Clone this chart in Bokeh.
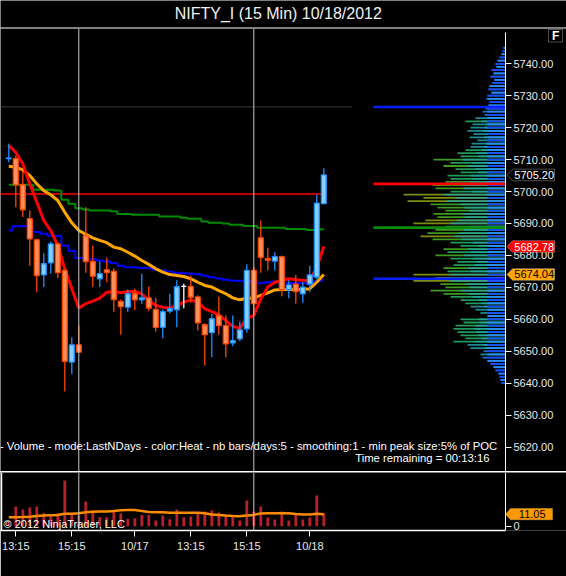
import numpy as np
from bokeh.plotting import figure
from bokeh.layouts import column
from bokeh.models import (Range1d, FixedTicker, NumeralTickFormatter, Span, Label,
                          PolyAnnotation, ColumnDataSource)
from bokeh.embed import file_html
from bokeh.resources import INLINE
from bokeh.core.properties import value

FONT = "Liberation Sans"

# ---------------- data ----------------
title_text = "NIFTY_I (15 Min)  10/18/2012"

opens = [5710.3, 5710.3, 5702.1, 5691.5, 5684.9, 5673.9, 5677.7, 5683.6, 5675.3, 5646.6,
         5652.0, 5686.2, 5678.1, 5672.7, 5675.5, 5675.0, 5665.6, 5663.8, 5668.0, 5666.1,
         5666.7, 5663.1, 5657.5, 5662.6, 5663.0, 5670.3, 5670.3, 5667.0, 5658.3, 5655.8,
         5661.2, 5658.0, 5652.6, 5653.9, 5657.0, 5675.3, 5685.5, 5679.0, 5678.2, 5679.6,
         5669.3, 5671.0, 5668.0, 5671.0, 5673.2, 5696.2]
highs = [5715.0, 5711.3, 5706.6, 5694.1, 5685.2, 5680.7, 5684.4, 5684.1, 5675.6, 5654.4,
         5658.1, 5695.1, 5683.1, 5678.1, 5679.3, 5676.0, 5666.2, 5669.3, 5669.6, 5674.3,
         5670.3, 5666.7, 5663.1, 5668.0, 5672.2, 5671.1, 5673.7, 5667.5, 5658.8, 5661.7,
         5667.1, 5661.2, 5661.2, 5659.3, 5677.2, 5676.5, 5690.9, 5682.4, 5681.0, 5680.0,
         5672.2, 5673.9, 5671.6, 5676.8, 5699.0, 5707.3]
lows = [5709.2, 5695.1, 5692.0, 5676.8, 5668.5, 5670.1, 5674.3, 5672.9, 5637.4, 5642.9,
        5649.7, 5674.6, 5670.1, 5670.1, 5671.6, 5662.4, 5655.2, 5662.4, 5662.8, 5664.9,
        5662.6, 5656.2, 5654.1, 5661.9, 5657.5, 5663.5, 5665.2, 5656.5, 5645.5, 5648.1,
        5655.2, 5648.1, 5651.6, 5653.2, 5655.8, 5661.2, 5674.6, 5675.3, 5675.3, 5667.2,
        5666.6, 5664.9, 5665.2, 5668.6, 5672.5, 5696.0]
closes = [5710.5, 5702.1, 5694.3, 5685.2, 5673.7, 5677.4, 5683.6, 5674.6, 5646.8, 5652.0,
          5649.7, 5678.1, 5673.5, 5674.3, 5674.6, 5666.2, 5664.0, 5668.0, 5666.1, 5666.7,
          5663.5, 5657.5, 5662.4, 5663.3, 5670.2, 5670.3, 5666.9, 5658.9, 5655.2, 5660.2,
          5658.0, 5652.3, 5653.3, 5656.7, 5675.3, 5664.9, 5679.4, 5678.5, 5679.6, 5669.3,
          5670.8, 5668.7, 5670.1, 5673.9, 5696.4, 5705.2]

ma_fast = [5714.4, 5712.3, 5708.7, 5702.4, 5696.7, 5690.9, 5687.8, 5683.1, 5675.8, 5669.6,
           5663.5, 5664.9, 5665.7, 5666.6, 5668.5, 5668.7, 5668.3, 5668.7, 5668.7, 5668.0,
           5665.9, 5664.3, 5663.8, 5663.5, 5664.3, 5665.4, 5666.1, 5665.4, 5663.3, 5662.4,
           5661.4, 5659.6, 5657.8, 5657.2, 5660.2, 5661.2, 5666.4, 5670.1, 5671.6, 5672.2,
           5672.7, 5672.4, 5672.2, 5671.9, 5676.3, 5682.78]
ma_slow = [5707.9, 5707.6, 5706.8, 5705.0, 5702.4, 5700.3, 5699.0, 5697.2, 5693.5, 5690.2,
           5687.8, 5686.6, 5685.5, 5684.7, 5684.0, 5682.6, 5682.1, 5681.0, 5679.8, 5678.4,
           5677.2, 5675.8, 5674.8, 5674.0, 5673.7, 5673.4, 5672.7, 5671.6, 5670.6, 5670.1,
           5669.0, 5668.0, 5666.7, 5666.1, 5666.6, 5666.7, 5667.5, 5668.3, 5669.2, 5669.3,
           5669.3, 5669.3, 5669.3, 5669.6, 5671.6, 5674.04]
blue_step = [5687.8, 5689.1, 5689.1, 5689.1, 5687.3, 5686.8, 5686.2, 5686.2, 5683.1, 5681.5,
             5679.2, 5679.0, 5678.8, 5678.4, 5678.1, 5677.6, 5676.8, 5676.3, 5676.3, 5676.1,
             5676.0, 5675.5, 5675.3, 5675.0, 5674.6, 5674.4, 5674.3, 5674.1, 5673.6, 5673.2,
             5672.8, 5672.4, 5672.1, 5672.1, 5672.1, 5671.8, 5671.3, 5671.6, 5671.8, 5671.6,
             5671.4, 5671.4, 5671.3, 5671.1, 5671.9, 5672.2]
green_step = [5702.1, 5702.1, 5702.1, 5702.1, 5700.6, 5700.6, 5700.6, 5700.3, 5697.4, 5696.2,
              5694.8, 5694.4, 5694.1, 5694.1, 5694.1, 5693.8, 5693.0, 5693.0, 5692.7, 5692.7,
              5692.7, 5692.7, 5692.2, 5692.2, 5692.2, 5691.8, 5691.5, 5691.5, 5690.6, 5690.2,
              5690.2, 5690.0, 5689.6, 5689.6, 5689.2, 5689.2, 5688.7, 5688.7, 5688.7, 5688.7,
              5688.3, 5688.3, 5688.3, 5688.0, 5688.0, 5688.2]
ref_level = 5699.2

volumes = [4.6, 18.1, 15.4, 17.2, 18.1, 12.0, 10.8, 12.0, 42.0, 12.0,
           9.8, 22.7, 14.4, 8.3, 8.3, 13.8, 12.0, 6.7, 7.4, 10.4,
           10.4, 5.2, 9.8, 6.4, 15.4, 8.3, 8.9, 12.2, 13.5, 14.4,
           12.6, 9.8, 8.3, 5.2, 23.6, 13.5, 18.1, 8.0, 6.2, 13.5,
           5.2, 11.3, 6.2, 8.0, 28.2, 12.0]
vol_ma = [8.3, 8.3, 8.5, 8.8, 9.3, 9.8, 10.1, 10.3, 11.4, 11.4,
          11.9, 12.9, 13.4, 13.6, 13.6, 13.9, 14.7, 15.0, 15.0, 14.0,
          13.0, 12.9, 12.9, 12.4, 12.3, 12.3, 12.3, 12.3, 11.9, 10.7,
          10.4, 9.8, 9.3, 9.2, 9.9, 10.4, 11.6, 11.9, 12.0, 12.0,
          12.0, 11.2, 10.8, 10.8, 11.4, 11.05]

tick_bars = [1, 9, 18, 26, 34, 43]
tick_labels = ["13:15", "15:15", "10/17", "13:15", "15:15", "10/18"]
session_bars = [10, 35]
price_ticks = [5620, 5630, 5640, 5650, 5660, 5670, 5680, 5690, 5700, 5710, 5720, 5730, 5740]

# volume profile (price level -> relative volume, px scale)
prof_levels = list(range(5745, 5639, -1))
prof_len = [2, 3, 4, 6, 8, 10, 9, 14, 12, 15,
            11, 13, 16, 17, 14, 18, 19, 16, 17, 20,
            23, 21, 30, 40, 33, 35, 38, 32, 36, 28,
            34, 35, 40, 48, 45, 72, 55, 62, 50, 45,
            58, 55, 60, 73, 70, 55, 102, 82, 98, 75,
            68, 60, 72, 68, 80, 92, 60, 70, 78, 85,
            73, 55, 45, 62, 58, 70, 55, 48, 52, 62,
            58, 92, 70, 92, 65, 60, 75, 62, 55, 45,
            40, 35, 30, 25, 18, 45, 42, 50, 52, 48,
            45, 40, 52, 38, 35, 22, 25, 23, 18, 15,
            12, 10, 7, 6, 5, 4]
poc_prices = [5726.5, 5702.4, 5688.7, 5672.7]
poc_colors = ["#0a1eff", "#ff0000", "#0a8c0a", "#0a1eff"]
poc_len = 132
poc_ext_bar = 49          # faint extension of the upper POC over the price bars

# ---------------- geometry ----------------
W = 566
PXB = 7.0                       # pixels per bar
X0 = -8.3 / PXB
X1 = X0 + W / PXB
AXIS_PX = 505                   # price scale position
P_LO, P_HI = 5612.35, 5751.05
MAIN_H = 443
V_LO, V_HI = -3.96, 49.4
VFRAME = 58
VH = 104


def bx(page_x):
    return X0 + page_x / PXB


def py(page_y):
    return P_HI - (page_y - 28) * (P_HI - P_LO) / MAIN_H


AX = bx(AXIS_PX)
n = len(opens)
idx = list(range(n))

# ---------------- title strip ----------------
tf = figure(width=W, height=28, x_range=Range1d(0, W), y_range=Range1d(0, 28),
            output_backend="svg", toolbar_location=None, min_border=0,
            x_axis_location=None, y_axis_location=None,
            background_fill_color="black", border_fill_color="black", outline_line_color=None)
tf.grid.visible = False
tf.text(x=[280], y=[15], text=[title_text], text_align="center", text_baseline="middle",
        text_color="#f0f0f0", text_font=value(FONT), text_font_size="16px")
tf.quad(left=[0], right=[W], bottom=[0], top=[1], fill_color="white", line_color=None)

# ---------------- main price panel ----------------
p = figure(width=W, height=MAIN_H, x_range=Range1d(X0, X1), y_range=Range1d(P_LO, P_HI),
           output_backend="svg", toolbar_location=None, y_axis_location="right",
           x_axis_location=None, min_border=0,
           background_fill_color="black", border_fill_color="black", outline_line_color=None)
p.grid.visible = False
p.extra_x_ranges = {"prof": Range1d(-AXIS_PX, W - AXIS_PX)}

ax = p.yaxis[0]
ax.fixed_location = AX
ax.bounds = (P_LO, py(32))
ax.ticker = FixedTicker(ticks=price_ticks)
ax.formatter = NumeralTickFormatter(format="0.00")
ax.axis_line_color = "white"
ax.major_tick_line_color = "white"
ax.major_tick_out = 6
ax.major_tick_in = 0
ax.minor_tick_line_color = None
ax.major_label_text_color = "#e8e8e8"
ax.major_label_text_font = FONT
ax.major_label_text_font_size = "11px"
ax.major_label_standoff = 2


def heat(l):
    if l >= 80:
        return "#7d8c12"
    if l >= 60:
        return "#3f9a22"
    if l >= 40:
        return "#1f9a58"
    if l >= 25:
        return "#1d8a95"
    if l >= 12:
        return "#1f6ccc"
    return "#1245ff"


pf = ColumnDataSource(dict(
    y=prof_levels,
    full=[-v for v in prof_len],
    mid=[-0.6 * v if v >= 25 else 0 for v in prof_len],
    core=[-min(v, 18) for v in prof_len],
    cfull=[heat(v) for v in prof_len],
    ccore=["#1a4cff" if k % 2 else "#2b8cff" for k in range(len(prof_len))],
))
p.hbar(y="y", left="full", right=0, height=0.55, fill_color="cfull", line_color=None,
       source=pf, x_range_name="prof")
p.hbar(y="y", left="mid", right=0, height=0.55, fill_color="#22a8b0", line_color=None,
       fill_alpha=0.75, source=pf, x_range_name="prof")
p.hbar(y="y", left="core", right=0, height=0.55, fill_color="ccore", line_color=None,
       source=pf, x_range_name="prof")
p.hbar(y=poc_prices, left=-poc_len, right=0, height=0.8, fill_color=poc_colors,
       line_color=None, x_range_name="prof")
p.line(x=[X0, poc_ext_bar], y=[poc_prices[0], poc_prices[0]], line_color="#383838", line_width=1)

# session separators
for b in session_bars:
    p.add_layout(Span(location=b, dimension="height", line_color="#c8c8c8", line_width=1))

# reference level
p.line(x=[idx[0] - 1.5, idx[-1] - 0.2], y=[ref_level, ref_level], line_color="#ff0000", line_width=1.5)

# indicator lines
p.step(x=idx, y=green_step, mode="center", line_color="#008a00", line_width=2)
p.step(x=idx, y=blue_step, mode="center", line_color="#0000ff", line_width=2)
p.line(x=idx, y=ma_slow, line_color="#ffa500", line_width=3)
p.line(x=idx, y=ma_fast, line_color="#ff0000", line_width=3)

# candles
wick_c, fill_c, line_c, btop, bbot = [], [], [], [], []
for o, c in zip(opens, closes):
    if c > o:
        wick_c.append("#1e90ff"); fill_c.append("#87cefa"); line_c.append("#1e90ff")
    elif c < o:
        wick_c.append("#ff4500"); fill_c.append("#ff8f5a"); line_c.append("#ff4500")
    else:
        wick_c.append("#ffffff"); fill_c.append("#ffffff"); line_c.append("#ffffff")
    btop.append(max(o, c)); bbot.append(min(o, c))
p.segment(x0=idx, y0=lows, x1=idx, y1=highs, line_color=wick_c, line_width=1.3)
p.vbar(x=idx, top=btop, bottom=bbot, width=0.7, fill_color=fill_c, line_color=line_c,
       line_width=1.3)

# texts
p.add_layout(Label(x=bx(503), y=py(445),
                   text=" - Volume - mode:LastNDays  - color:Heat - nb bars/days:5 - smoothing:1 - min peak size:5% of POC",
                   text_align="right", text_baseline="middle", text_color="white",
                   text_font=FONT, text_font_size="11.3px"))
p.add_layout(Label(x=bx(489), y=py(457), text="Time remaining = 00:13:16",
                   text_align="right", text_baseline="middle", text_color="white",
                   text_font=FONT, text_font_size="11.3px"))


def marker(fig, yv, half, text, fill, txt, border, x_tip, x_l, x_r):
    fig.add_layout(PolyAnnotation(xs=[x_tip, x_l, x_r, x_r, x_l],
                                  ys=[yv, yv + half, yv + half, yv - half, yv - half],
                                  fill_color=fill, fill_alpha=1, line_color=border, line_width=1))
    fig.add_layout(Label(x=(x_l + x_r) / 2 + 0.1, y=yv, text=text, text_align="center",
                         text_baseline="middle", text_color=txt, text_font=FONT,
                         text_font_size="11px"))


hp = 5.8 * (P_HI - P_LO) / MAIN_H
marker(p, closes[-1], hp, f"{closes[-1]:.2f}", "black", "white", "white", bx(506.5), bx(512), bx(554))
marker(p, ma_fast[-1], hp, f"{ma_fast[-1]:.2f}", "#ff0000", "white", "white", bx(506.5), bx(512), bx(554))
marker(p, ma_slow[-1], hp, f"{ma_slow[-1]:.2f}", "#ffa500", "black", "white", bx(506.5), bx(512), bx(554))

# "F" box
p.add_layout(PolyAnnotation(xs=[bx(548), bx(562), bx(562), bx(548)],
                            ys=[py(29), py(29), py(41.5), py(41.5)],
                            fill_color="black", fill_alpha=1, line_color="white", line_width=1))
p.add_layout(Label(x=bx(555.2), y=py(35.5), text="F", text_align="center", text_baseline="middle",
                   text_color="white", text_font=FONT, text_font_size="12px",
                   text_font_style="bold"))

# ---------------- separator ----------------
sep = figure(width=W, height=1, x_range=Range1d(0, 1), y_range=Range1d(0, 1),
             output_backend="svg", toolbar_location=None, min_border=0,
             x_axis_location=None, y_axis_location=None,
             background_fill_color="white", border_fill_color="white", outline_line_color=None)
sep.grid.visible = False
sep.quad(left=[0], right=[1], bottom=[0], top=[1], fill_color="white", line_color=None)

# ---------------- volume panel ----------------
vf = figure(width=W, height=VH, x_range=p.x_range, y_range=Range1d(V_LO, V_HI),
            output_backend="svg", toolbar_location=None, y_axis_location="right",
            min_border_left=0, min_border_right=0, min_border_top=0,
            min_border_bottom=VH - VFRAME,
            background_fill_color="black", border_fill_color="black", outline_line_color=None)
vf.grid.visible = False
for b in session_bars:
    vf.add_layout(Span(location=b, dimension="height", line_color="#c8c8c8", line_width=1))
vf.add_layout(Span(location=bx(1), dimension="height", line_color="white", line_width=1.5))
vf.vbar(x=idx, top=volumes, bottom=0, width=0.4, fill_color="#b8202a", line_color=None)
vf.line(x=idx, y=vol_ma, line_color="#ff8c00", line_width=2.5)

vy = vf.yaxis[0]
vy.fixed_location = AX
vy.ticker = FixedTicker(ticks=[0])
vy.axis_line_color = "white"
vy.major_tick_line_color = "white"
vy.major_tick_out = 6
vy.major_tick_in = 0
vy.minor_tick_line_color = None
vy.major_label_text_color = "#e8e8e8"
vy.major_label_text_font = FONT
vy.major_label_text_font_size = "11px"
vy.major_label_standoff = 2

vx = vf.xaxis[0]
vx.bounds = (X0, AX)
vx.ticker = FixedTicker(ticks=tick_bars)
vx.major_label_overrides = {b: t for b, t in zip(tick_bars, tick_labels)}
vx.axis_line_color = "white"
vx.axis_line_width = 1.5
vx.major_tick_line_color = "white"
vx.major_tick_out = 6
vx.major_tick_in = 0
vx.minor_tick_line_color = None
vx.major_label_text_color = "#e8e8e8"
vx.major_label_text_font = FONT
vx.major_label_text_font_size = "11px"
vx.major_label_standoff = 3

vf.add_layout(Label(x=bx(3), y=1.6, text="\u00a9 2012 NinjaTrader, LLC", text_align="left",
                    text_baseline="middle", text_color="white", text_font=FONT,
                    text_font_size="11px"))
hv = 5.6 * (V_HI - V_LO) / VFRAME
marker(vf, vol_ma[-1], hv, f"{vol_ma[-1]:.2f}", "#ff9900", "black", "#ffcc66", bx(505), bx(510), bx(552))

layout = column(tf, p, sep, vf, spacing=0)
open("out.html", "w").write(file_html(layout, INLINE))
